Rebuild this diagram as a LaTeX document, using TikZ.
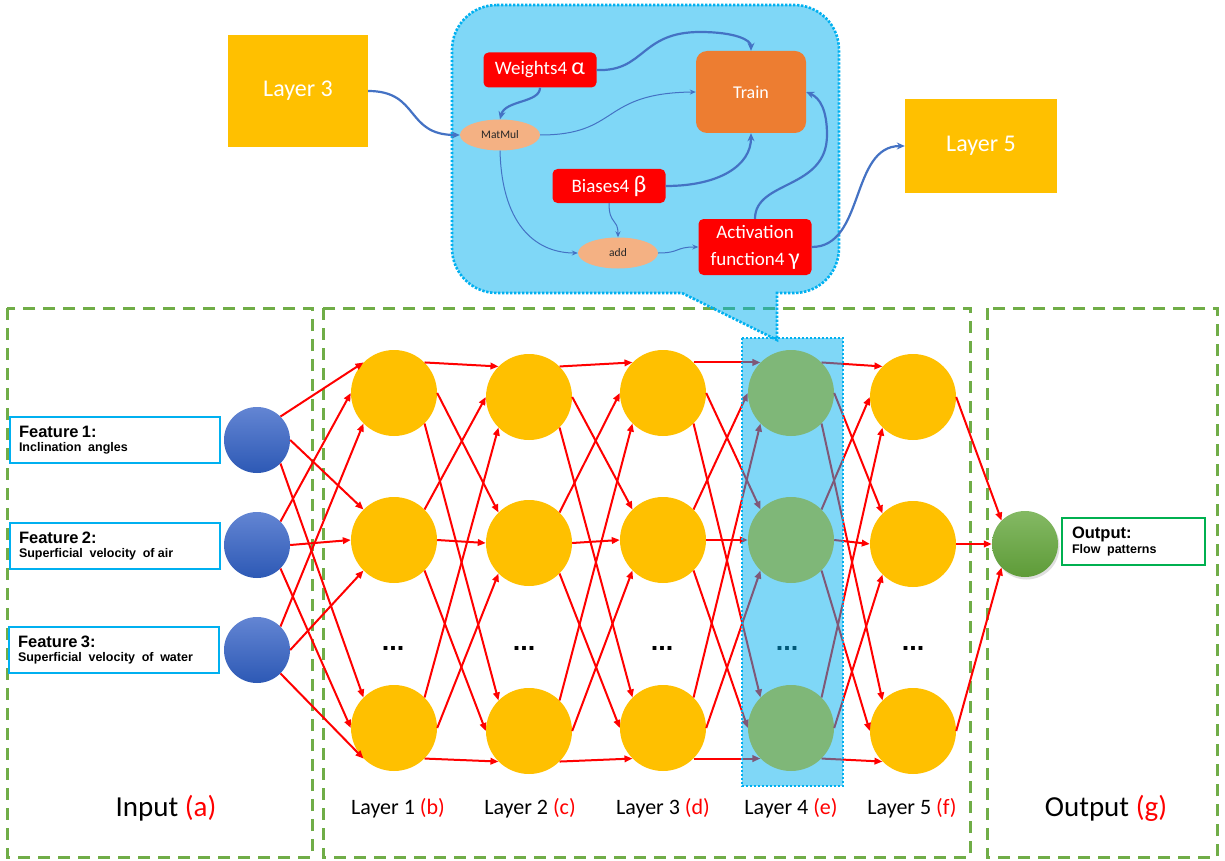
\documentclass[tikz,border=0pt]{standalone}
\usepackage{fontspec}
\setmainfont{Carlito}
\newfontfamily\arialf{Liberation Sans}
\usetikzlibrary{shapes.geometric,arrows.meta,shadows}
\definecolor{cGold}{HTML}{FFC000}
\definecolor{cRed}{HTML}{FF0000}
\definecolor{cOrange}{HTML}{ED7D31}
\definecolor{cSalmon}{HTML}{F4B183}
\definecolor{cBlueLine}{HTML}{4472C4}
\definecolor{cGreenDash}{HTML}{70AD47}
\definecolor{cCyan}{HTML}{00B0F0}
\definecolor{cGreenBox}{HTML}{00B050}
\definecolor{cInTop}{HTML}{6385D3}
\definecolor{cInBot}{HTML}{2D59B5}
\definecolor{cOutTop}{HTML}{84B964}
\definecolor{cOutBot}{HTML}{5E9B38}
\newcommand\grk[1]{{\fontsize{24}{24}\selectfont #1}}
\begin{document}
\begin{tikzpicture}[x=1pt,y=-1pt,
  gdash/.style={draw=cGreenDash, line width=3pt, dash pattern=on 12pt off 8pt},
  dotline/.style={draw=cCyan, line width=2.6pt, dash pattern=on 2.4pt off 1.6pt},
  neuron/.style={circle, fill=cGold, minimum size=86pt, inner sep=0pt},
  inneuron/.style={circle, top color=cInTop, bottom color=cInBot, minimum size=66pt, inner sep=0pt},
  outneuron/.style={circle, top color=cOutTop, bottom color=cOutBot, minimum size=66pt, inner sep=0pt,
     drop shadow={opacity=0.25, shadow xshift=1.5pt, shadow yshift=-2.5pt}},
  dotsnode/.style={anchor=base, font=\arialf\bfseries\fontsize{27}{27}\selectfont, inner sep=0pt},
  redarrow/.style={draw=cRed, line width=2pt, -{Triangle[length=8pt,width=6.5pt]}},
  lbl/.style={font=\fontsize{22}{26}\selectfont, inner sep=0pt},
  biglbl/.style={font=\fontsize{29}{32}\selectfont, inner sep=0pt},
  featbox/.style={draw=cCyan, line width=2pt, fill=white, text width=192pt, inner xsep=9pt,
     minimum height=46pt, align=left, font=\arialf\bfseries},
  outbox/.style={draw=cGreenBox, line width=2pt, fill=white, text width=123pt, inner xsep=10pt,
     minimum height=47pt, align=left, font=\arialf\bfseries},
  goldbox/.style={rectangle, fill=cGold, text=white, font=\fontsize{24}{26}\selectfont, inner sep=0pt},
  redbox/.style={rectangle, rounded corners=5pt, fill=cRed, text=white, font=\fontsize{19}{27}\selectfont,
     inner sep=0pt, minimum width=113pt},
  trainbox/.style={rectangle, rounded corners=11pt, fill=cOrange, text=white, font=\fontsize{18}{20}\selectfont,
     inner sep=0pt, minimum width=110pt, minimum height=82pt},
  ellbox/.style={ellipse, fill=cSalmon, minimum width=80pt, minimum height=31pt, inner sep=0pt,
     text=black!85, font=\fontsize{11.5}{12}\selectfont},
  bthick/.style={draw=cBlueLine, line width=2.2pt, -{Stealth[length=8pt,width=7pt]}},
  bthin/.style={draw=cBlueLine, line width=1pt, -{Stealth[length=6pt,width=5pt]}}
]
\fill[white] (0,0) rectangle (1225,861);
\useasboundingbox (0,0) rectangle (1225,861);

% dashed group boxes
\draw[gdash] (7,308) rectangle (312,857);
\draw[gdash] (323,308) rectangle (970,857);
\draw[gdash] (987,308) rectangle (1217,857);

% input neurons
\foreach \i/\y in {1/440,2/545,3/650}
  \node[inneuron] (n-0-\i) at (257,\y) {};

% hidden layers
\foreach \l/\x/\ya/\yb/\yc/\dx in {1/394/393/540/728/393, 2/529/397/543/731/524, 3/663/393/540/728/662, 4/791/393/540/728/787, 5/913/397/544/731/913}{
  \node[neuron] (n-\l-1) at (\x,\ya) {};
  \node[neuron] (n-\l-2) at (\x,\yb) {};
  \node[neuron] (n-\l-3) at (\x,\yc) {};
  \node[dotsnode] (d-\l) at (\dx,650) {...};
}

% output neuron
\node[outneuron] (n-6-1) at (1025,544) {};

% feature and output boxes
\node[featbox] (f1) at (115,440) {\fontsize{16.5}{17}\selectfont Feature 1:\\[2pt]\fontsize{12.5}{14}\selectfont Inclination\ \ angles};
\node[featbox] (f2) at (115,546) {\fontsize{16.5}{17}\selectfont Feature 2:\\[2pt]\fontsize{12.5}{14}\selectfont Superficial\ \ velocity\ \ of\ air};
\node[featbox] (f3) at (114,650) {\fontsize{16.5}{17}\selectfont Feature 3:\\[2pt]\fontsize{12.5}{14}\selectfont Superficial\ \ velocity\ \ of\ \ water};
\node[outbox] (ob) at (1133.5,541.5) {\fontsize{16.5}{17}\selectfont Output:\\[2pt]\fontsize{12.5}{14}\selectfont Flow\ \ patterns};

% red connections
\foreach \l in {0,...,4}{
  \pgfmathtruncatemacro{\m}{\l+1}
  \foreach \i/\ta in {1/135,2/180,3/225}{
    \foreach \j/\sa in {1/45,2/0,3/315}{
      \draw[redarrow] (n-\l-\i.\sa) -- (n-\m-\j.\ta);
    }
  }
}
\foreach \i/\ta in {1/135,2/180,3/225}
  \draw[redarrow] (n-5-\i.east) -- (n-6-1.\ta);

% labels
\node[lbl] (lab1) at (398,808) {Layer 1 \textcolor{cRed}{(b)}};
\node[lbl] (lab2) at (530,808) {Layer 2 \textcolor{cRed}{(c)}};
\node[lbl] (lab3) at (663,808) {Layer 3 \textcolor{cRed}{(d)}};
\node[lbl] (lab4) at (791,808) {Layer 4 \textcolor{cRed}{(e)}};
\node[lbl] (lab5) at (912,808) {Layer 5 \textcolor{cRed}{(f)}};
\node[biglbl] (labin) at (166,808) {Input \textcolor{cRed}{(a)}};
\node[biglbl] (labout) at (1106,808) {Output \textcolor{cRed}{(g)}};

% highlight of layer 4
\fill[cCyan, fill opacity=0.5] (742,338) rectangle (843,786);
\draw[dotline] (742,338) rectangle (843,786);

% callout
\path[fill=cCyan, fill opacity=0.5]
  (497,5) -- (794,5) .. controls (819,5) and (839,25) .. (839,50) -- (839,248)
  .. controls (839,273) and (819,293) .. (794,293) -- (777,293) -- (777,340) -- (682,293) -- (497,293)
  .. controls (472,293) and (452,273) .. (452,248) -- (452,50) .. controls (452,25) and (472,5) .. (497,5) -- cycle;
\draw[dotline]
  (497,5) -- (794,5) .. controls (819,5) and (839,25) .. (839,50) -- (839,248)
  .. controls (839,273) and (819,293) .. (794,293) -- (777,293) -- (777,340) -- (682,293) -- (497,293)
  .. controls (472,293) and (452,273) .. (452,248) -- (452,50) .. controls (452,25) and (472,5) .. (497,5) -- cycle;

% top boxes
\node[goldbox, minimum width=140pt, minimum height=112pt] (L3) at (298,91) {Layer 3};
\node[goldbox, minimum width=152pt, minimum height=94pt] (L5) at (981,146) {Layer 5};

\node[redbox, minimum height=35pt] (W) at (540,70) {Weights4 \grk{α}};
\node[trainbox] (T) at (751,92) {Train};
\node[ellbox] (M) at (500,135) {MatMul};
\node[redbox, minimum height=34pt] (B) at (609,186) {Biases4 \grk{β}};
\node[ellbox] (A) at (618,253) {add};
\node[redbox, minimum height=56pt, align=center] (Act) at (755,247) {Activation\\function4 \grk{γ}};

% blue connectors
\draw[bthick] (L3.east) .. controls (420,91) and (405,135) .. (M.west);
\draw[bthick] (W.east) .. controls (645,72) and (640,32) .. (700,32) .. controls (735,32) and (751,40) .. (T.north);
\draw[bthick] (W.south) .. controls (540,103) and (505,100) .. (M.north);
\draw[bthin] (M.east) .. controls (620,135) and (600,93) .. (T.west);
\draw[bthin] (M.south) .. controls (502,230) and (540,253) .. (A.west);
\draw[bthick] (B.east) .. controls (720,186) and (751,165) .. (T.south);
\draw[bthin] (B.south) .. controls (609,225) and (618,218) .. (A.north);
\draw[bthin] (A.east) .. controls (680,253) and (675,247) .. (Act.west);
\draw[bthick] (Act.north) .. controls (755,180) and (827,190) .. (827,135) .. controls (827,110) and (820,98) .. (T.east);
\draw[bthick] (Act.east) .. controls (865,247) and (850,146) .. (L5.west);
\end{tikzpicture}
\end{document}
